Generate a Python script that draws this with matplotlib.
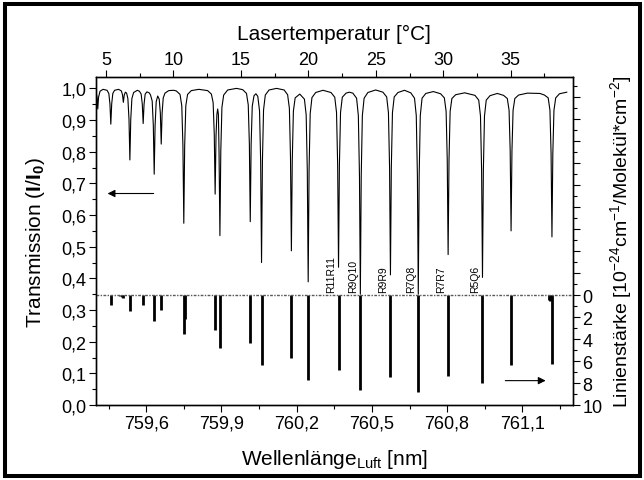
import matplotlib
matplotlib.use("Agg")
import matplotlib.pyplot as plt
from matplotlib.patches import Rectangle
from matplotlib.ticker import MultipleLocator, FuncFormatter

plt.rcParams['font.family'] = ['Liberation Sans', 'DejaVu Sans']
plt.rcParams['mathtext.fontset'] = 'custom'
plt.rcParams['mathtext.rm'] = 'Liberation Sans'
plt.rcParams['mathtext.it'] = 'Liberation Sans:italic'
plt.rcParams['mathtext.bf'] = 'Liberation Sans:bold'

# transmission spectrum (wavelength nm, I/I0)
spectrum = [
    (759.400, 0.990), (759.404, 0.972), (759.407, 0.935), (759.410, 0.972), (759.416, 0.991), (759.428, 0.997),
    (759.444, 0.994), (759.451, 0.984), (759.4555, 0.951), (759.459, 0.887), (759.4625, 0.951), (759.467, 0.984), (759.474, 0.994), (759.490, 0.997),
    (759.501, 0.992), (759.5055, 0.980), (759.509, 0.956), (759.5125, 0.979), (759.517, 0.988), (759.522, 0.985),
    (759.527, 0.968), (759.5315, 0.902), (759.535, 0.774), (759.5385, 0.902), (759.543, 0.968), (759.550, 0.987), (759.565, 0.994),
    (759.573, 0.991), (759.580, 0.982), (759.5845, 0.950), (759.588, 0.889), (759.5915, 0.950), (759.596, 0.982), (759.603, 0.989), (759.612, 0.986),
    (759.617, 0.980), (759.624, 0.960), (759.6285, 0.882), (759.632, 0.729), (759.6355, 0.882), (759.640, 0.958), (759.646, 0.976),
    (759.652, 0.966), (759.6565, 0.922), (759.660, 0.824), (759.6635, 0.922), (759.668, 0.970), (759.675, 0.985), (759.690, 0.993), (759.710, 0.994),
    (759.720, 0.992), (759.735, 0.981), (759.742, 0.945), (759.7465, 0.819), (759.750, 0.574), (759.7535, 0.819), (759.758, 0.945), (759.765, 0.981), (759.780, 0.993), (759.810, 0.997), (759.845, 0.993),
    (759.860, 0.982), (759.867, 0.955), (759.8715, 0.855), (759.875, 0.666), (759.8785, 0.850), (759.882, 0.918), (759.885, 0.935), (759.888, 0.918),
    (759.8905, 0.800), (759.894, 0.535), (759.8975, 0.800), (759.902, 0.940), (759.909, 0.979), (759.925, 0.995), (759.960, 1.000), (759.985, 0.996),
    (760.000, 0.984), (760.007, 0.948), (760.0115, 0.823), (760.015, 0.579), (760.0185, 0.823), (760.023, 0.944), (760.030, 0.977), (760.0375, 0.983),
    (760.045, 0.975), (760.052, 0.929), (760.0565, 0.769), (760.060, 0.450), (760.0635, 0.769), (760.068, 0.932), (760.075, 0.979), (760.090, 0.995), (760.120, 1.000), (760.150, 0.995),
    (760.164, 0.980), (760.171, 0.937), (760.1755, 0.780), (760.179, 0.487), (760.1825, 0.772), (760.187, 0.928), (760.194, 0.970), (760.2125, 0.982),
    (760.231, 0.966), (760.238, 0.916), (760.2425, 0.738), (760.246, 0.389), (760.2495, 0.742), (760.254, 0.920), (760.261, 0.971), (760.276, 0.987), (760.305, 0.994), (760.337, 0.987),
    (760.352, 0.972), (760.359, 0.924), (760.3635, 0.759), (760.367, 0.435), (760.3705, 0.759), (760.375, 0.924), (760.382, 0.972), (760.397, 0.985), (760.410, 0.988), (760.424, 0.985),
    (760.439, 0.969), (760.446, 0.914), (760.4505, 0.723), (760.454, 0.350), (760.4575, 0.723), (760.462, 0.914), (760.469, 0.969), (760.484, 0.987), (760.515, 0.995), (760.544, 0.988),
    (760.559, 0.973), (760.566, 0.923), (760.5705, 0.750), (760.574, 0.411), (760.5775, 0.750), (760.582, 0.923), (760.589, 0.973), (760.604, 0.987), (760.630, 0.994), (760.655, 0.986),
    (760.670, 0.969), (760.677, 0.914), (760.6815, 0.723), (760.685, 0.350), (760.6885, 0.723), (760.693, 0.914), (760.700, 0.969), (760.715, 0.984), (760.745, 0.990), (760.774, 0.983),
    (760.789, 0.970), (760.796, 0.927), (760.8005, 0.774), (760.804, 0.475), (760.8075, 0.774), (760.812, 0.927), (760.819, 0.968), (760.834, 0.980), (760.870, 0.986), (760.911, 0.978),
    (760.926, 0.963), (760.933, 0.913), (760.9375, 0.741), (760.941, 0.403), (760.9445, 0.741), (760.949, 0.913), (760.956, 0.963), (760.971, 0.977), (761.000, 0.984), (761.025, 0.978),
    (761.040, 0.968), (761.047, 0.931), (761.0515, 0.802), (761.055, 0.550), (761.0585, 0.802), (761.063, 0.931), (761.070, 0.968), (761.085, 0.979), (761.120, 0.985), (761.170, 0.984), (761.188, 0.979),
    (761.203, 0.970), (761.210, 0.931), (761.2145, 0.795), (761.218, 0.531), (761.2215, 0.795), (761.226, 0.931), (761.233, 0.970), (761.248, 0.983), (761.277, 0.988),
]
spec_nm = [p[0] for p in spectrum]
spec_T = [p[1] for p in spectrum]

# line strengths (10^-24 cm^-1/(molecule cm^-2))
line_nm = [759.459, 759.497, 759.503, 759.509, 759.535, 759.588, 759.632, 759.660,
           759.750, 759.754, 759.875, 759.894, 760.015, 760.060, 760.179, 760.246,
           760.367, 760.454, 760.574, 760.685, 760.804, 760.941, 761.055,
           761.205, 761.209, 761.218]
line_S = [0.88, 0.1, 0.2, 0.3, 1.48, 0.88, 2.33, 1.36,
          3.5, 2.2, 3.15, 4.85, 4.4, 6.34, 5.7, 7.7,
          6.8, 8.64, 7.48, 8.85, 7.39, 8.0, 6.34,
          0.4, 0.5, 6.27]

label_names = ['R11R11', 'R9Q10', 'R9R9', 'R7Q8', 'R7R7', 'R5Q6']
label_nm = [760.367, 760.454, 760.574, 760.685, 760.804, 760.941]

zero_T = 0.347          # transmission level of zero line strength
temp_range = (4.26, 39.58)

fig = plt.figure(figsize=(6.44, 4.81), dpi=100)
ax = fig.add_axes([0.1491, 0.1559, 0.7399, 0.6813])

ax.plot(spec_nm, spec_T, color='black', lw=0.8)
ax.set_xlim(759.40, 761.30)
ax.set_ylim(0, 1.035)

comma = FuncFormatter(lambda v, p: f"{v:.1f}".replace('.', ','))
ax.xaxis.set_major_locator(MultipleLocator(0.3))
ax.xaxis.set_minor_locator(MultipleLocator(0.15))
ax.yaxis.set_major_locator(MultipleLocator(0.1))
ax.yaxis.set_minor_locator(MultipleLocator(0.05))
ax.xaxis.set_major_formatter(comma)
ax.yaxis.set_major_formatter(comma)
ax.set_xlabel(r"Wellenlänge$_{\mathrm{Luft}}$ [nm]", fontsize=15, labelpad=11)
ax.set_ylabel(r"Transmission ($\mathbf{I}$/$\mathbf{I}_\mathbf{0}$)", fontsize=15, labelpad=10)

# right axis: line strength, zero at the dotted line, growing downwards
ax2 = ax.twinx()
s_top = -(1.035 - zero_T) / zero_T * 10
ax2.set_ylim(10, s_top)
ax2.vlines(line_nm, 0, line_S, color='black', lw=2.0)
ax2.axhline(0, color='0.35', lw=1.0, ls=(0, (2, 1, 1, 1)))
ax2.yaxis.set_major_locator(MultipleLocator(2))
ax2.yaxis.set_minor_locator(MultipleLocator(1))
ax2.yaxis.set_major_formatter(FuncFormatter(lambda v, p: f"{v:.0f}" if -0.01 < v < 10.01 else ""))
ax2.set_ylabel(r"Linienstärke [10$^{-24}$cm$^{-1}$/Molekül*cm$^{-2}$]", fontsize=14, labelpad=4)

# top axis: laser temperature
ax3 = ax.twiny()
ax3.set_xlim(*temp_range)
ax3.xaxis.set_major_locator(MultipleLocator(5))
ax3.xaxis.set_minor_locator(MultipleLocator(2.5))
ax3.set_xlabel("Lasertemperatur [°C]", fontsize=15, labelpad=8)

for a in (ax, ax2, ax3):
    a.tick_params(which='major', direction='out', length=5, width=0.8, labelsize=13, pad=2)
    a.tick_params(which='minor', direction='out', length=3, width=0.8)
    for sp in a.spines.values():
        sp.set_linewidth(0.9)

for name, nm in zip(label_names, label_nm):
    ax.annotate(name, xy=(nm, zero_T), xytext=(-5, 2), textcoords='offset points',
                rotation=90, ha='center', va='bottom', fontsize=7.5)

# direction arrows
ax.annotate('', xy=(759.435, 0.668), xytext=(759.641, 0.668),
            arrowprops=dict(arrowstyle='-|>', color='black', lw=0.8, mutation_scale=11))
ax.annotate('', xy=(761.204, 0.077), xytext=(761.021, 0.077),
            arrowprops=dict(arrowstyle='-|>', color='black', lw=0.8, mutation_scale=11))

fig.patches.append(Rectangle((5 / 644, 4 / 481), 635 / 644, 472 / 481, transform=fig.transFigure,
                             fill=False, lw=2.9, ec='black'))

fig.savefig("out.png", dpi=100)
